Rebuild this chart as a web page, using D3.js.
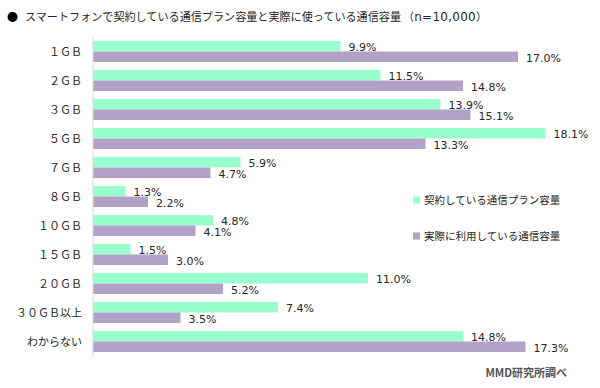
<!DOCTYPE html>
<html>
<head>
<meta charset="utf-8">
<script src="https://cdn.jsdelivr.net/npm/d3@7"></script>
<style>
  body { margin: 0; background: #fff; }
  text { font-family: "Noto Sans CJK JP", "DejaVu Sans", sans-serif; }
  text.val { font-family: "DejaVu Sans", sans-serif; }
</style>
</head>
<body>
<svg id="chart"></svg>
<script>
const width = 600, height = 388;
const contract_color = "#99ffcc", actual_color = "#b3a2c7";
const text_color = "#262626", axis_color = "#d9d9d9";

// Data
const categories = ["１ＧＢ", "２ＧＢ", "３ＧＢ", "５ＧＢ", "７ＧＢ", "８ＧＢ", "１０ＧＢ", "１５ＧＢ", "２０ＧＢ", "３０ＧＢ以上", "わからない"];
const contractValues = [9.9, 11.5, 13.9, 18.1, 5.9, 1.3, 4.8, 1.5, 11.0, 7.4, 14.8];
const actualValues = [17.0, 14.8, 15.1, 13.3, 4.7, 2.2, 4.1, 3.0, 5.2, 3.5, 17.3];
const seriesNames = ["契約している通信プラン容量", "実際に利用している通信容量"];

const svg = d3.select("#chart")
  .attr("width", width)
  .attr("height", height);

const x = d3.scaleLinear().domain([0, 20]).range([93, 593]);
const y = d3.scaleBand().domain(categories).range([37, 356])
  .paddingInner(0.276).paddingOuter(0.138);
const ySub = d3.scaleBand().domain([0, 1]).range([0, y.bandwidth()]);

// Title
svg.append("text")
  .attr("x", 7).attr("y", 21)
  .attr("font-size", 11).attr("fill", "#000")
  .text("●");
svg.append("text")
  .attr("x", 25).attr("y", 21)
  .attr("font-size", 11).attr("fill", text_color)
  .attr("textLength", 376).attr("lengthAdjust", "spacingAndGlyphs")
  .text("スマートフォンで契約している通信プラン容量と実際に使っている通信容量");
const nText = svg.append("text")
  .attr("x", 403).attr("y", 21)
  .attr("font-size", 12).attr("fill", text_color)
  .attr("textLength", 84).attr("lengthAdjust", "spacing");
nText.append("tspan").attr("font-size", 11).text("（");
nText.append("tspan").attr("font-family", "DejaVu Sans").text("n=10,000");
nText.append("tspan").attr("font-size", 11).text("）");

// Bars
const rows = categories.map((c, i) => ({ cat: c, vals: [contractValues[i], actualValues[i]] }));
const colors = [contract_color, actual_color];

const g = svg.selectAll("g.row")
  .data(rows)
  .enter().append("g")
  .attr("class", "row")
  .attr("transform", d => `translate(0,${y(d.cat)})`);

g.selectAll("rect")
  .data(d => d.vals)
  .enter().append("rect")
  .attr("x", x(0))
  .attr("y", (d, i) => ySub(i))
  .attr("width", d => x(d) - x(0))
  .attr("height", ySub.bandwidth())
  .attr("fill", (d, i) => colors[i]);

g.selectAll("text.val")
  .data(d => d.vals)
  .enter().append("text")
  .attr("class", "val")
  .attr("x", d => x(d) + 8)
  .attr("y", (d, i) => ySub(i) + ySub.bandwidth() / 2 + 5)
  .attr("font-size", 11)
  .attr("fill", text_color)
  .text(d => d.toFixed(1) + "%");

// Axis line
svg.append("line")
  .attr("x1", x(0)).attr("x2", x(0))
  .attr("y1", 37).attr("y2", 357)
  .attr("stroke", axis_color).attr("stroke-width", 1);

// Category labels
svg.selectAll("text.cat")
  .data(categories)
  .enter().append("text")
  .attr("class", "cat")
  .attr("x", 82)
  .attr("y", d => y(d) + y.bandwidth() / 2 + 4)
  .attr("text-anchor", "end")
  .attr("font-size", 11)
  .attr("fill", text_color)
  .text(d => d);

// Legend
const legend = svg.selectAll("g.legend")
  .data(seriesNames)
  .enter().append("g")
  .attr("class", "legend")
  .attr("transform", (d, i) => `translate(413,${200 + i * 36})`);
legend.append("rect")
  .attr("x", 0).attr("y", -3.5)
  .attr("width", 7).attr("height", 7)
  .attr("fill", (d, i) => colors[i]);
legend.append("text")
  .attr("x", 11).attr("y", 4)
  .attr("font-size", 10.5).attr("fill", text_color)
  .text(d => d);

// Source
svg.append("text")
  .attr("x", 567).attr("y", 377)
  .attr("text-anchor", "end")
  .attr("font-size", 11).attr("font-weight", "bold")
  .attr("fill", "#555")
  .text("MMD研究所調べ");
</script>
</body>
</html>
